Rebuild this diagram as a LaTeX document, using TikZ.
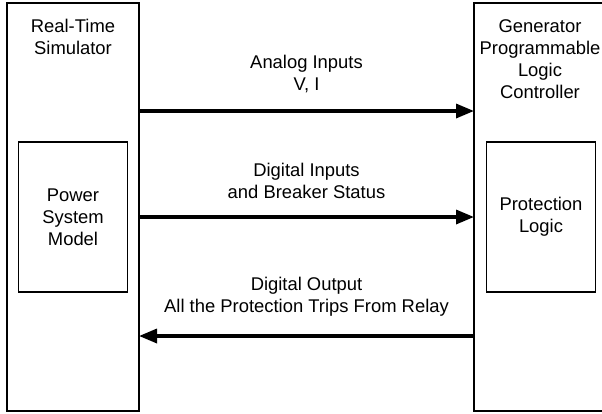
\documentclass[tikz,border=0pt]{standalone}
\usepackage{fontspec}
\setmainfont{Liberation Sans}
\usetikzlibrary{arrows.meta}
\begin{document}
\begin{tikzpicture}[x=1pt,y=-1pt,
  outerbox/.style={draw,line width=2pt,minimum width=132pt,minimum height=408pt,inner sep=0pt},
  innerbox/.style={draw,line width=1.6pt,minimum width=109pt,minimum height=150pt,inner sep=0pt},
  txt/.style={align=center,font=\fontsize{18.4}{22}\selectfont,inner sep=0pt},
  arr/.style={line width=3.3pt,-{Triangle[length=18pt,width=14pt]},shorten >=-1pt}]
\useasboundingbox (0,0) rectangle (602,413);
\clip (0,0) rectangle (602,413);
\node[outerbox] (sim) at (73,207) {};
\node[outerbox] (plc) at (540,207) {};
\node[innerbox] (psm) at (73,217) {};
\node[innerbox] (prot) at (541,217) {};
\node[txt] (simt) at (73,36.5) {Real-Time\\Simulator};
\node[txt] (plct) at (540,59) {Generator\\Programmable\\Logic\\Controller};
\node[txt] (psmt) at (psm.center) {Power\\System\\Model};
\node[txt] (prott) at (prot.center) {Protection\\Logic};
\coordinate (a1s) at (sim.east |- 0,111);
\coordinate (a1e) at (plc.west |- 0,111);
\coordinate (a2s) at (sim.east |- 0,217);
\coordinate (a2e) at (plc.west |- 0,217);
\coordinate (a3s) at (plc.west |- 0,336);
\coordinate (a3e) at (sim.east |- 0,336);
\draw[arr] (a1s) -- (a1e);
\draw[arr] (a2s) -- (a2e);
\draw[arr] (a3s) -- (a3e);
\node[txt] (l1) at (306.5,74) {Analog Inputs\\V, I};
\node[txt] (l2) at (306.5,180.5) {Digital Inputs\\and Breaker Status};
\node[txt] (l3) at (306.5,297) {Digital Output\\All the Protection Trips From Relay};
\end{tikzpicture}
\end{document}
